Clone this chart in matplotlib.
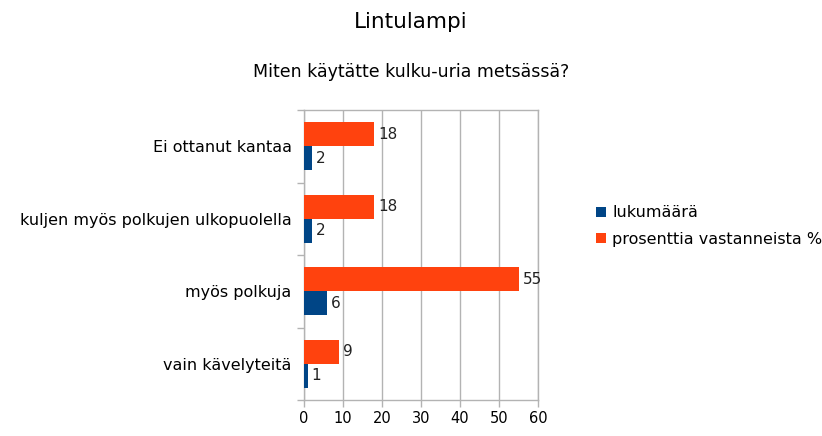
import matplotlib
matplotlib.use("Agg")
import matplotlib.pyplot as plt
import numpy as np

plt.rcParams['font.family'] = ['DejaVu Sans']

categories = ["vain kävelyteitä", "myös polkuja", "kuljen myös polkujen ulkopuolella", "Ei ottanut kantaa"]
lukumaara = [1, 6, 2, 2]
prosentti = [9, 55, 18, 18]
series_names = ["lukumäärä", "prosenttia vastanneista %"]
xticks = [0, 10, 20, 30, 40, 50, 60]

blue = "#004586"
orange = "#ff420e"
grid = "#b3b3b3"

fig = plt.figure(figsize=(8.22, 4.36), dpi=100)
ax = fig.add_axes([304/822, 1 - 400/436, (538-304)/822, (400-110)/436])

y = np.arange(len(categories))
h = 0.33
b1 = ax.barh(y - h/2, lukumaara, height=h, color=blue, label=series_names[0], zorder=3)
b2 = ax.barh(y + h/2, prosentti, height=h, color=orange, label=series_names[1], zorder=3)

for bars, vals in ((b1, lukumaara), (b2, prosentti)):
    for rect, v in zip(bars, vals):
        ax.text(rect.get_width() + 1.0, rect.get_y() + rect.get_height()/2, str(v),
                va='center', ha='left', fontsize=11, color='#222222')

ax.set_xlim(0, 60)
ax.set_ylim(-0.5, len(categories) - 0.5)
ax.set_xticks(xticks)
ax.set_xticklabels([str(t) for t in xticks], fontsize=10.5)
ax.set_yticks(y)
ax.set_yticklabels(categories, fontsize=11.5)
ax.tick_params(axis='y', length=0, pad=9)
ax.set_yticks(np.arange(-0.5, len(categories), 1.0), minor=True)
ax.tick_params(axis='y', which='minor', length=5, color=grid, width=1)
ax.tick_params(axis='x', length=5, color=grid, width=1, pad=3)
ax.xaxis.grid(True, color=grid, linewidth=1, zorder=0)
for s in ax.spines.values():
    s.set_color(grid)
    s.set_linewidth(1)

fig.text(411/822, 1 - 22/436, "Lintulampi", ha='center', va='center', fontsize=15.5)
fig.text(411/822, 1 - 72/436, "Miten käytätte kulku-uria metsässä?", ha='center', va='center', fontsize=12.5)

handles = [b1, b2]
fig.legend(handles, series_names, loc='center left', bbox_to_anchor=(582/822, 1 - 226/436),
           frameon=False, fontsize=11.5, handlelength=0.6, handleheight=0.6,
           handletextpad=0.4, labelspacing=0.7)

fig.savefig("out.png", dpi=100)
